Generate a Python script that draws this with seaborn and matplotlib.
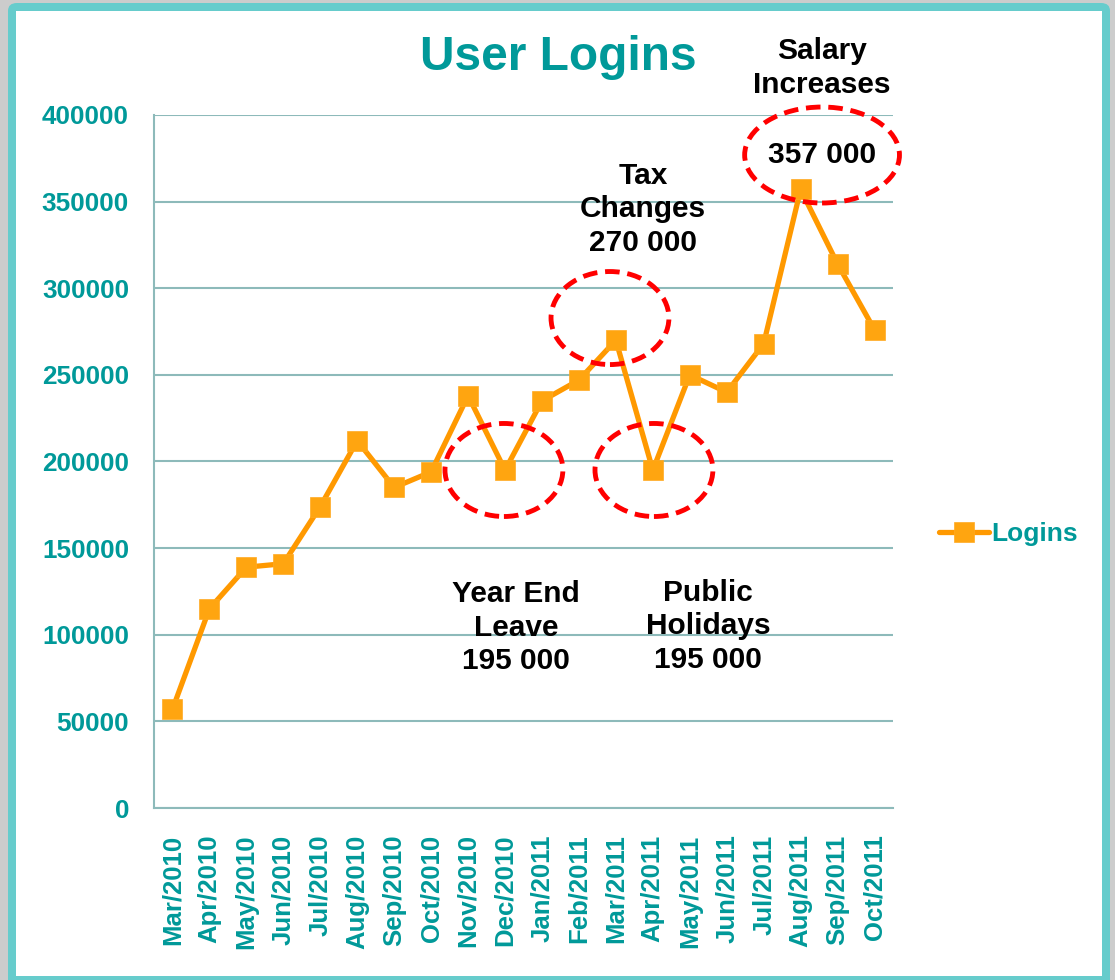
import matplotlib
matplotlib.use("Agg")
import matplotlib.pyplot as plt
import seaborn as sns
import pandas as pd
from matplotlib.patches import Ellipse, FancyBboxPatch

# data
months = ["Mar/2010", "Apr/2010", "May/2010", "Jun/2010", "Jul/2010", "Aug/2010",
          "Sep/2010", "Oct/2010", "Nov/2010", "Dec/2010", "Jan/2011", "Feb/2011",
          "Mar/2011", "Apr/2011", "May/2011", "Jun/2011", "Jul/2011", "Aug/2011",
          "Sep/2011", "Oct/2011"]
logins = [57000, 115000, 139000, 141000, 174000, 212000, 185000, 194000, 238000,
          195000, 235000, 247000, 270000, 195000, 250000, 240000, 268000, 357000,
          314000, 276000]
y_ticks = [0, 50000, 100000, 150000, 200000, 250000, 300000, 350000, 400000]

# callouts: text, text x/y (data)
callouts = [
    ("Salary\nIncreases", 17.58, 427000),
    ("Tax\nChanges\n270 000", 12.73, 345500),
    ("Year End\nLeave\n195 000", 9.3, 104000),
    ("Public\nHolidays\n195 000", 14.5, 105000),
]
# red dashed rings: x/y centre, width/height (data)
ellipses = [
    (17.58, 376900, 4.19, 55400),
    (11.84, 282800, 3.19, 53700),
    (8.97, 195100, 3.19, 53700),
    (13.03, 195100, 3.19, 53700),
]

df = pd.DataFrame({"month": months, "Logins": logins})

sns.set_theme(style="white")
plt.rcParams["font.family"] = ["Liberation Sans", "DejaVu Sans"]
plt.rcParams["font.weight"] = "bold"

teal = "#009999"
grid_c = "#8dbaba"

fig = plt.figure(figsize=(11.15, 9.8), dpi=100, facecolor="#cccccc")
W, H = 1115, 980
fig.patches.append(FancyBboxPatch((8 / W, -0.02), 1102 / W, 1 - 3 / H + 0.02,
                                  boxstyle="round,pad=0,rounding_size=0.008",
                                  transform=fig.transFigure, facecolor="#66cccc",
                                  edgecolor="none", zorder=-10))
fig.patches.append(FancyBboxPatch((16 / W, 1 - 976 / H), 1086 / W, (976 - 11) / H,
                                  boxstyle="square,pad=0", transform=fig.transFigure,
                                  facecolor="white", edgecolor="none", zorder=-9))

ax = fig.add_axes([154 / W, 1 - 808 / H, (893 - 154) / W, (808 - 115) / H])
ax.set_facecolor("none")

sns.lineplot(data=df, x="month", y="Logins", sort=False, ax=ax, color="#ff9900",
             linewidth=3.8, marker="s", markersize=15, markerfacecolor="#ffa510",
             markeredgecolor="#ffaa22", markeredgewidth=0.5, label="Logins")

ax.set_xlim(-0.5, len(months) - 0.5)
ax.set_ylim(0, 400000)
ax.set_yticks(y_ticks)
ax.set_yticklabels([str(v) for v in y_ticks])
ax.set_xticks(range(len(months)))
ax.set_xticklabels(months, rotation=90)
ax.set_xticks([i - 0.5 for i in range(len(months) + 1)], minor=True)
ax.tick_params(axis="x", which="major", length=0, pad=19, labelsize=18.5, labelcolor=teal)
ax.tick_params(axis="x", which="minor", length=7, width=1.2, color=grid_c, direction="out")
ax.tick_params(axis="y", length=8, width=1.2, color=grid_c, labelsize=18.8,
               labelcolor=teal, pad=10)
for lab in ax.get_xticklabels() + ax.get_yticklabels():
    lab.set_fontweight("bold")
ax.set_xlabel("")
ax.set_ylabel("")
ax.grid(axis="y", color=grid_c, linewidth=1.5)
ax.set_axisbelow(True)
for side in ["top", "right"]:
    ax.spines[side].set_visible(False)
for side in ["left", "bottom"]:
    ax.spines[side].set_color(grid_c)
    ax.spines[side].set_linewidth(1.5)

for (cx, cy, w, h) in ellipses:
    ax.add_patch(Ellipse((cx, cy), w, h, fill=False, edgecolor="#ff0000", linewidth=3.5,
                         linestyle=(0, (3, 1.6)), clip_on=False, zorder=5))

for (txt, tx, ty) in callouts:
    ax.text(tx, ty, txt, ha="center", va="center", fontsize=21.5, fontweight="bold",
            color="black", linespacing=1.25, clip_on=False)
ax.text(17.58, 376900, "357 000", ha="center", va="center", fontsize=21.5,
        fontweight="bold", color="black", clip_on=False)

fig.text(558 / W, 1 - 57 / H, "User Logins", ha="center", va="center", fontsize=34.5,
         fontweight="bold", color=teal)

leg = ax.legend(loc="center left", bbox_to_anchor=(1.03, 0.395), frameon=False,
                fontsize=19, handlelength=1.9, handletextpad=0.1)
for t in leg.get_texts():
    t.set_color(teal)
    t.set_fontweight("bold")

fig.savefig("out.png", dpi=100, facecolor=fig.get_facecolor())
